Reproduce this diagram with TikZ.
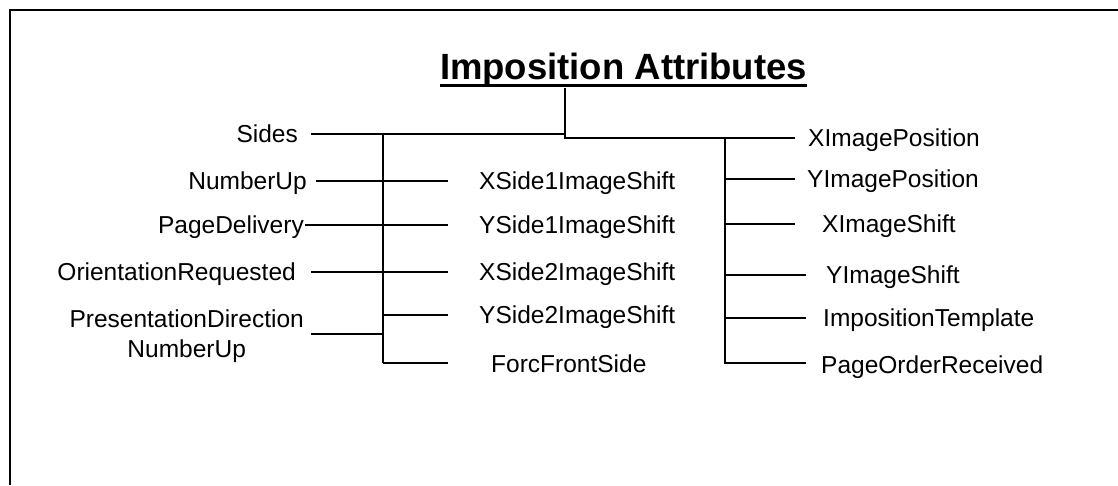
\documentclass[tikz,border=0pt]{standalone}
\usepackage{fontspec}
\setmainfont{Liberation Sans}
\begin{document}
\begin{tikzpicture}[x=1pt,y=-1pt,
  lbl/.style={inner sep=0pt, font=\fontsize{24.5}{30}\selectfont, text height=17.5pt, text depth=0pt},
  lbltwo/.style={inner sep=0pt, font=\fontsize{24.5}{30}\selectfont, align=center},
  conn/.style={line width=2pt},
  frame/.style={line width=2.5pt},
  ]
\useasboundingbox (0,0) rectangle (1118,485);
\draw[frame] (1118,10) -- (10,10) -- (10,485);
% title
\node[inner sep=0pt, anchor=base, font=\bfseries\fontsize{36.5}{42}\selectfont] (title) at (623.5,79) {Imposition Attributes};
\draw[line width=3pt] ([yshift=-6pt]title.base west) -- ([yshift=-6pt]title.base east);
% trunk coordinates
\coordinate (tvT) at (565,88);
\coordinate (tvB) at (565,138);
\coordinate (lv) at (383,0);
\coordinate (rv) at (725,0);
% left labels
\node[lbl, anchor=east] (sides)  at (298,134) {Sides};
\node[lbl, anchor=east] (numup)  at (307,181) {NumberUp};
\node[lbl, anchor=east] (pdel)   at (304,225) {PageDelivery};
\node[lbl, anchor=east] (orient) at (296,272) {OrientationRequested};
\node[lbltwo, anchor=east] (pdir) at (304,336.5) {PresentationDirection\\NumberUp};
% middle labels
\node[lbl, anchor=west] (xs1) at (479,181) {XSide1ImageShift};
\node[lbl, anchor=west] (ys1) at (479,225) {YSide1ImageShift};
\node[lbl, anchor=west] (xs2) at (479,272) {XSide2ImageShift};
\node[lbl, anchor=west] (ys2) at (479,315) {YSide2ImageShift};
\node[lbl, anchor=west] (ffs) at (491,364) {ForcFrontSide};
% right labels
\node[lbl, anchor=west] (xip) at (808,138) {XImagePosition};
\node[lbl, anchor=west] (yip) at (807,179) {YImagePosition};
\node[lbl, anchor=west] (xis) at (822,224) {XImageShift};
\node[lbl, anchor=west] (yis) at (826,275) {YImageShift};
\node[lbl, anchor=west] (itp) at (823,318) {ImpositionTemplate};
\node[lbl, anchor=west] (por) at (821,365) {PageOrderReceived};
% connectors
\draw[conn] (tvT) -- (tvB) -- ([xshift=-13pt]xip.west);
\draw[conn] ([xshift=13pt]sides.east) -- (sides.east -| tvB);
\draw[conn] (sides.east -| lv) -- (383,363);
\draw[conn] ([xshift=9pt]numup.east) -- ([xshift=-31pt]xs1.west);
\draw[conn] ([xshift=1pt]pdel.east) -- ([xshift=-31pt]ys1.west);
\draw[conn] ([xshift=15pt]orient.east) -- ([xshift=-31pt]xs2.west);
\coordinate (pdl) at ([shift={(7pt,2.5pt)}]pdir.east);
\draw[conn] (pdl) -- (pdl -| lv);
\draw[conn] (ys2.west -| lv) -- ([xshift=-31pt]ys2.west);
\coordinate (ffl) at ([shift={(-43pt,1pt)}]ffs.west);
\draw[conn] (ffl -| lv) -- (ffl);
\coordinate (pol) at ([shift={(-15pt,2pt)}]por.west);
\draw[conn] (xip.west -| rv) -- (pol -| rv) -- (pol);
\draw[conn] (yip.west -| rv) -- ([xshift=-12pt]yip.west);
\draw[conn] (xis.west -| rv) -- ([xshift=-27pt]xis.west);
\draw[conn] (yis.west -| rv) -- ([xshift=-20pt]yis.west);
\draw[conn] (itp.west -| rv) -- ([xshift=-17pt]itp.west);
\end{tikzpicture}
\end{document}
